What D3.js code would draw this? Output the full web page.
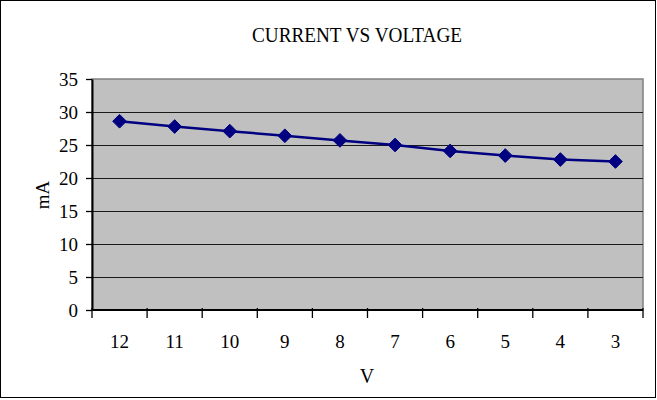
<!DOCTYPE html>
<html>
<head>
<meta charset="utf-8">
<script src="https://cdn.jsdelivr.net/npm/d3@7"></script>
<style>
  html, body { margin: 0; padding: 0; background: #fff; }
  svg text { font-family: "Liberation Serif", "Times New Roman", serif; fill: #000; }
</style>
</head>
<body>
<svg id="chart" width="657" height="400"></svg>
<script>
// Voltage categories (left to right) and measured current in mA
const voltages = ["12", "11", "10", "9", "8", "7", "6", "5", "4", "3"];
const currents = [28.6, 27.8, 27.1, 26.4, 25.7, 25.0, 24.1, 23.4, 22.8, 22.5];
const yTicks = [0, 5, 10, 15, 20, 25, 30, 35];

const svg = d3.select("#chart");
const W = 657, H = 400;
const margin = { left: 92, right: 14, top: 79, bottom: 90 };
const plotW = W - margin.left - margin.right;
const plotH = H - margin.top - margin.bottom;

// outer frame
svg.append("rect")
  .attr("x", 0.5).attr("y", 0.5)
  .attr("width", W - 2).attr("height", H - 3)
  .attr("fill", "#fff").attr("stroke", "#000").attr("stroke-width", 1);

const g = svg.append("g").attr("transform", `translate(${margin.left},${margin.top})`);

const x = d3.scaleBand().domain(voltages).range([0, plotW]);
const y = d3.scaleLinear().domain([0, 35]).range([plotH, 0]);

// plot background with grey border
g.append("rect")
  .attr("width", plotW).attr("height", plotH)
  .attr("fill", "#c0c0c0").attr("stroke", "#808080").attr("stroke-width", 1.5);

// horizontal gridlines
g.append("g").selectAll("line")
  .data(yTicks.filter(t => t > 0 && t < 35))
  .join("line")
  .attr("x1", 0).attr("x2", plotW)
  .attr("y1", d => Math.round(y(d)) + 0.5).attr("y2", d => Math.round(y(d)) + 0.5)
  .attr("stroke", "#1a1a1a").attr("stroke-width", 1.2);

// y axis
const yAxis = g.append("g")
  .call(d3.axisLeft(y).tickValues(yTicks).tickSize(6).tickSizeOuter(0).tickPadding(8));
yAxis.attr("font-family", null).attr("font-size", null);
yAxis.select(".domain").attr("stroke", "#000").attr("stroke-width", 2);
yAxis.selectAll(".tick line").attr("stroke", "#000").attr("stroke-width", 1.3);
yAxis.selectAll(".tick text")
  .style("font-family", "'Liberation Serif', serif")
  .style("font-size", "19px")
  .attr("fill", "#000");

// x axis: ticks at category boundaries, labels centred in each band
const xAxisG = g.append("g").attr("transform", `translate(0,${plotH})`);
xAxisG.append("line")
  .attr("x1", 0).attr("x2", plotW).attr("y1", 0).attr("y2", 0)
  .attr("stroke", "#000").attr("stroke-width", 2);
const boundaries = d3.range(voltages.length + 1).map(i => i * x.step());
xAxisG.selectAll(".btick").data(boundaries).join("line")
  .attr("class", "btick")
  .attr("x1", d => d).attr("x2", d => d)
  .attr("y1", -2).attr("y2", 8)
  .attr("stroke", "#000").attr("stroke-width", 1.3);
xAxisG.selectAll(".xlabel").data(voltages).join("text")
  .attr("class", "xlabel")
  .attr("x", d => x(d) + x.bandwidth() / 2)
  .attr("y", 38)
  .attr("text-anchor", "middle")
  .style("font-size", "19px")
  .text(d => d);

// data line
const line = d3.line()
  .x((d, i) => x(voltages[i]) + x.bandwidth() / 2)
  .y(d => y(d));
g.append("path")
  .datum(currents)
  .attr("d", line)
  .attr("fill", "none")
  .attr("stroke", "#000080")
  .attr("stroke-width", 2.5);

// diamond markers
const diamond = d3.symbol().type(d3.symbolDiamond2).size(120);
g.selectAll(".pt").data(currents).join("path")
  .attr("class", "pt")
  .attr("transform", (d, i) => `translate(${x(voltages[i]) + x.bandwidth() / 2},${y(d)})`)
  .attr("d", diamond)
  .attr("fill", "#000080")
  .attr("stroke", "#000080")
  .attr("stroke-width", 1);

// title and axis titles
svg.append("text")
  .attr("x", 357).attr("y", 42)
  .attr("text-anchor", "middle")
  .style("font-size", "20px")
  .attr("textLength", 210)
  .attr("lengthAdjust", "spacingAndGlyphs")
  .text("CURRENT VS VOLTAGE");

svg.append("text")
  .attr("x", 367).attr("y", 383)
  .attr("text-anchor", "middle")
  .style("font-size", "20px")
  .text("V");

svg.append("text")
  .attr("transform", "translate(49,195) rotate(-90)")
  .attr("text-anchor", "middle")
  .style("font-size", "19px")
  .text("mA");
</script>
</body>
</html>
